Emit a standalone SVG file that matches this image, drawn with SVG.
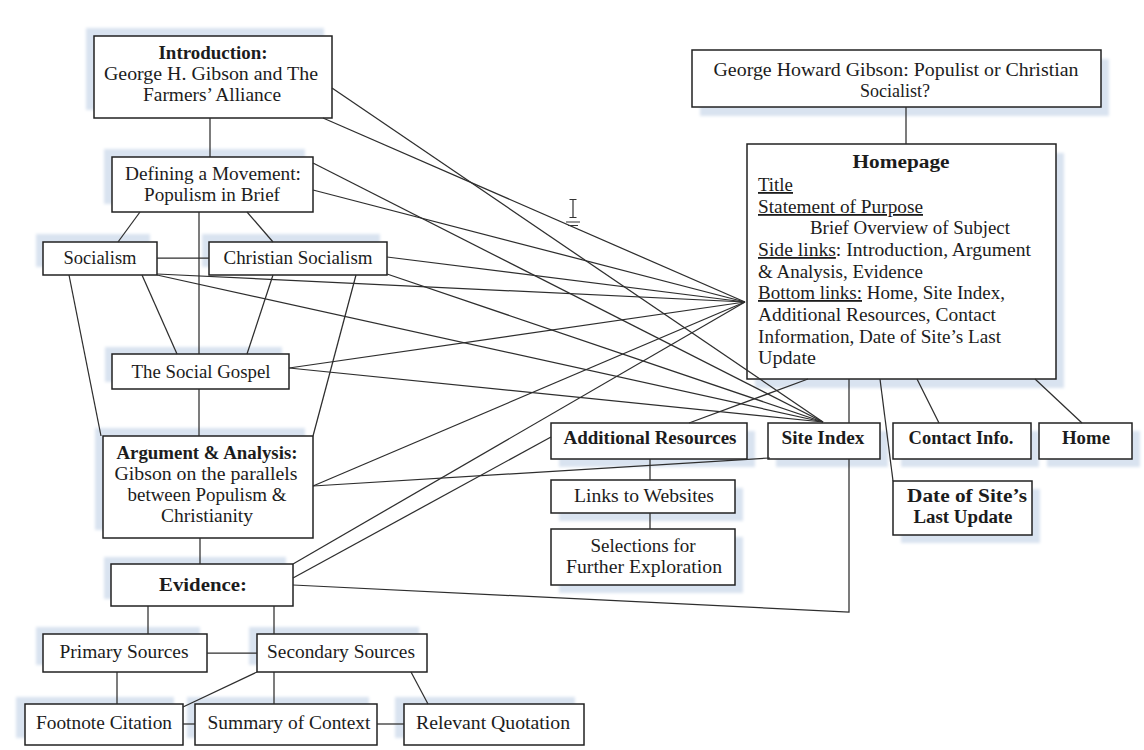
<svg xmlns="http://www.w3.org/2000/svg" width="1144" height="750" viewBox="0 0 1144 750">
<defs>
<filter id="soft" x="-10%" y="-20%" width="120%" height="140%"><feGaussianBlur stdDeviation="1.6"/></filter>
</defs>
<style>
.sh{fill:#d9e3f0;filter:url(#soft)}
.box{fill:#fff;stroke:#222;stroke-width:1.5}
.t{font-family:"Liberation Serif","Times New Roman",serif;font-size:18px;fill:#1c1c1c;text-anchor:middle}
.l{text-anchor:start}
.b{font-weight:bold}
.u{text-decoration:underline}
.c path{stroke:#2e2e2e;stroke-width:1.25;fill:none}
</style>
<rect width="1144" height="750" fill="#fff"/>

<g id="intro">
<rect class="sh" x="86" y="28" width="238" height="82"/>
<rect class="box" x="94" y="36" width="238" height="82"/>
<text class="t b" x="213" y="59" textLength="109" lengthAdjust="spacingAndGlyphs">Introduction:</text>
<text class="t" x="211" y="80" textLength="214" lengthAdjust="spacingAndGlyphs">George H. Gibson and The</text>
<text class="t" x="212" y="101" textLength="138" lengthAdjust="spacingAndGlyphs">Farmers’ Alliance</text>
</g>
<g id="defining">
<rect class="sh" x="104" y="149" width="201" height="55"/>
<rect class="box" x="112" y="157" width="201" height="55"/>
<text class="t" x="213" y="180" textLength="176" lengthAdjust="spacingAndGlyphs">Defining a Movement:</text>
<text class="t" x="212" y="201" textLength="136" lengthAdjust="spacingAndGlyphs">Populism in Brief</text>
</g>
<g id="socialism">
<rect class="sh" x="36" y="234" width="114" height="33"/>
<rect class="box" x="43" y="242" width="114" height="33"/>
<text class="t" x="100" y="264" textLength="73" lengthAdjust="spacingAndGlyphs">Socialism</text>
</g>
<g id="christian-socialism">
<rect class="sh" x="202" y="234" width="178" height="33"/>
<rect class="box" x="209" y="242" width="178" height="33"/>
<text class="t" x="298" y="264" textLength="149" lengthAdjust="spacingAndGlyphs">Christian Socialism</text>
</g>
<g id="social-gospel">
<rect class="sh" x="105" y="347" width="177" height="35"/>
<rect class="box" x="112" y="354" width="177" height="35"/>
<text class="t" x="201" y="378" textLength="139" lengthAdjust="spacingAndGlyphs">The Social Gospel</text>
</g>
<g id="argument">
<rect class="sh" x="95" y="428" width="210" height="102"/>
<rect class="box" x="103" y="436" width="210" height="102"/>
<text class="t b" x="207" y="459" textLength="181" lengthAdjust="spacingAndGlyphs">Argument &amp; Analysis:</text>
<text class="t" x="206" y="480" textLength="183" lengthAdjust="spacingAndGlyphs">Gibson on the parallels</text>
<text class="t" x="207" y="501" textLength="159" lengthAdjust="spacingAndGlyphs">between Populism &amp;</text>
<text class="t" x="207" y="522" textLength="92" lengthAdjust="spacingAndGlyphs">Christianity</text>
</g>
<g id="evidence">
<rect class="sh" x="104" y="557" width="182" height="42"/>
<rect class="box" x="111" y="564" width="182" height="42"/>
<text class="t b" x="203" y="591" font-size="19" textLength="88" lengthAdjust="spacingAndGlyphs">Evidence:</text>
</g>
<g id="primary">
<rect class="sh" x="36" y="627" width="164" height="38"/>
<rect class="box" x="43" y="634" width="164" height="38"/>
<text class="t" x="124" y="658" textLength="129" lengthAdjust="spacingAndGlyphs">Primary Sources</text>
</g>
<g id="secondary">
<rect class="sh" x="249" y="627" width="170" height="38"/>
<rect class="box" x="257" y="634" width="170" height="38"/>
<text class="t" x="341" y="658" textLength="148" lengthAdjust="spacingAndGlyphs">Secondary Sources</text>
</g>
<g id="footnote">
<rect class="sh" x="16" y="697" width="158" height="41"/>
<rect class="box" x="25" y="704" width="158" height="41"/>
<text class="t" x="104" y="729" textLength="136" lengthAdjust="spacingAndGlyphs">Footnote Citation</text>
</g>
<g id="summary">
<rect class="sh" x="187" y="697" width="182" height="41"/>
<rect class="box" x="195" y="704" width="182" height="41"/>
<text class="t" x="289" y="729" textLength="163" lengthAdjust="spacingAndGlyphs">Summary of Context</text>
</g>
<g id="relevant">
<rect class="sh" x="395" y="697" width="180" height="41"/>
<rect class="box" x="404" y="704" width="180" height="41"/>
<text class="t" x="493" y="729" textLength="154" lengthAdjust="spacingAndGlyphs">Relevant Quotation</text>
</g>

<g id="title">
<rect class="sh" x="700" y="59" width="409" height="57"/>
<rect class="box" x="692" y="50" width="409" height="57"/>
<text class="t" x="896" y="76" textLength="365" lengthAdjust="spacingAndGlyphs">George Howard Gibson: Populist or Christian</text>
<text class="t" x="895" y="97" textLength="70" lengthAdjust="spacingAndGlyphs">Socialist?</text>
</g>
<g id="homepage">
<rect class="sh" x="755" y="153" width="309" height="235"/>
<rect class="box" x="747" y="144" width="309" height="235"/>
<text class="t b" x="901" y="168" font-size="19" textLength="97" lengthAdjust="spacingAndGlyphs">Homepage</text>
<text class="t l u" x="758" y="191" textLength="35" lengthAdjust="spacingAndGlyphs">Title</text>
<text class="t l u" x="758" y="213" textLength="165" lengthAdjust="spacingAndGlyphs">Statement of Purpose</text>
<text class="t l" x="810" y="234" textLength="200" lengthAdjust="spacingAndGlyphs">Brief Overview of Subject</text>
<text class="t l" x="758" y="256" textLength="273" lengthAdjust="spacingAndGlyphs"><tspan class="u">Side links</tspan>: Introduction, Argument</text>
<text class="t l" x="758" y="278" textLength="165" lengthAdjust="spacingAndGlyphs">&amp; Analysis, Evidence</text>
<text class="t l" x="758" y="299" textLength="247" lengthAdjust="spacingAndGlyphs"><tspan class="u">Bottom links:</tspan> Home, Site Index,</text>
<text class="t l" x="758" y="321" textLength="238" lengthAdjust="spacingAndGlyphs">Additional Resources, Contact</text>
<text class="t l" x="758" y="343" textLength="243" lengthAdjust="spacingAndGlyphs">Information, Date of Site’s Last</text>
<text class="t l" x="758" y="364" textLength="58" lengthAdjust="spacingAndGlyphs">Update</text>
</g>
<g id="additional">
<rect class="sh" x="559" y="431" width="196" height="36"/>
<rect class="box" x="551" y="423" width="196" height="36"/>
<text class="t b" x="650" y="444" textLength="173" lengthAdjust="spacingAndGlyphs">Additional Resources</text>
</g>
<g id="site-index">
<rect class="sh" x="776" y="431" width="112" height="36"/>
<rect class="box" x="768" y="423" width="112" height="36"/>
<text class="t b" x="823" y="444" textLength="83" lengthAdjust="spacingAndGlyphs">Site Index</text>
</g>
<g id="contact">
<rect class="sh" x="901" y="431" width="138" height="36"/>
<rect class="box" x="893" y="423" width="138" height="36"/>
<text class="t b" x="961" y="444" textLength="105" lengthAdjust="spacingAndGlyphs">Contact Info.</text>
</g>
<g id="home">
<rect class="sh" x="1047" y="431" width="93" height="36"/>
<rect class="box" x="1039" y="423" width="93" height="36"/>
<text class="t b" x="1086" y="444" textLength="48" lengthAdjust="spacingAndGlyphs">Home</text>
</g>
<g id="links">
<rect class="sh" x="559" y="488" width="184" height="33"/>
<rect class="box" x="551" y="480" width="184" height="33"/>
<text class="t" x="644" y="502" textLength="140" lengthAdjust="spacingAndGlyphs">Links to Websites</text>
</g>
<g id="selections">
<rect class="sh" x="559" y="537" width="184" height="56"/>
<rect class="box" x="551" y="529" width="184" height="56"/>
<text class="t" x="643" y="552" textLength="105" lengthAdjust="spacingAndGlyphs">Selections for</text>
<text class="t" x="644" y="573" textLength="156" lengthAdjust="spacingAndGlyphs">Further Exploration</text>
</g>
<g id="date">
<rect class="sh" x="901" y="489" width="139" height="54"/>
<rect class="box" x="893" y="481" width="139" height="54"/>
<text class="t b" x="967" y="502" textLength="120" lengthAdjust="spacingAndGlyphs">Date of Site’s</text>
<text class="t b" x="963" y="523" textLength="99" lengthAdjust="spacingAndGlyphs">Last Update</text>
</g>

<g id="connectors" class="c">
<path d="M210 118V157"/>
<path d="M140 212L118 242"/>
<path d="M199 212V354"/>
<path d="M247 212L273 242"/>
<path d="M157 258H209"/>
<path d="M142 275L177 354"/>
<path d="M273 275L247 354"/>
<path d="M69 275L101 436"/>
<path d="M356 275L313 436"/>
<path d="M199 389V436"/>
<path d="M200 538V564"/>
<path d="M148 606V634"/>
<path d="M274 606V634"/>
<path d="M207 653H257"/>
<path d="M117 672V704"/>
<path d="M257 672L183 707"/>
<path d="M274 672V704"/>
<path d="M411 672L428 704"/>
<path d="M183 724H195"/>
<path d="M377 724H404"/>
<path d="M906 107V144"/>
<path d="M849 379V423"/>
<path d="M880 379L893 481"/>
<path d="M917 379L939 423"/>
<path d="M1035 379L1082 423"/>
<path d="M808 379L689 423"/>
<path d="M650 459V480"/>
<path d="M650 513V529"/>
<path d="M849 459V612L293 585"/>
<path d="M332 88L823 422"/>
<path d="M323 118L745 302"/>
<path d="M313 163L823 422"/>
<path d="M313 190L745 302"/>
<path d="M157 274L745 302"/>
<path d="M157 275L823 422"/>
<path d="M387 257L745 302"/>
<path d="M387 274L823 422"/>
<path d="M289 368L745 302"/>
<path d="M289 368L823 422"/>
<path d="M313 486L745 302"/>
<path d="M313 486L770 458"/>
<path d="M293 564L745 302"/>
<path d="M293 578L551 437"/>
</g>
<g id="cursor" stroke="#333" stroke-width="1.2" fill="none">
<path d="M573 200V217M569.5 199.5h7M569.5 217.5h7M566 222h14M568 225.5h10"/>
</g>
</svg>
